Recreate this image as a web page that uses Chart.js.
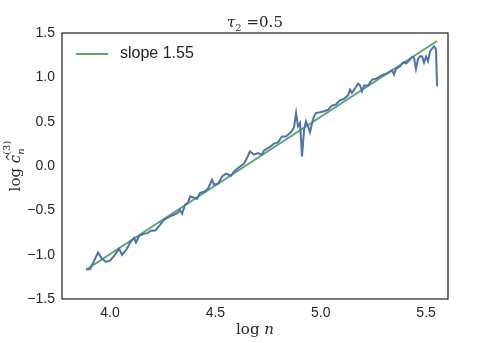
<!DOCTYPE html>
<html><head><meta charset="utf-8">
<script src="https://cdn.jsdelivr.net/npm/chart.js@4/dist/chart.umd.min.js"></script>
<style>html,body{margin:0;padding:0;background:#fff}#wrap{width:498px;height:343px}</style>
</head><body><div id="wrap"><canvas id="c" width="498" height="343"></canvas></div>
<script>
const logN = [3.886,3.905,3.943,3.962,3.981,4.000,4.019,4.043,4.057,4.081,4.095,4.114,4.123,4.138,4.161,4.180,4.195,4.209,4.218,4.237,4.256,4.285,4.304,4.323,4.332,4.342,4.356,4.370,4.380,4.399,4.413,4.427,4.446,4.465,4.484,4.494,4.513,4.532,4.551,4.574,4.589,4.598,4.617,4.636,4.655,4.664,4.683,4.702,4.721,4.731,4.759,4.778,4.797,4.816,4.835,4.854,4.864,4.873,4.883,4.892,4.902,4.911,4.921,4.930,4.940,4.949,4.959,4.968,4.978,4.997,5.016,5.035,5.053,5.072,5.091,5.110,5.129,5.139,5.148,5.168,5.177,5.187,5.196,5.206,5.225,5.244,5.263,5.281,5.300,5.319,5.338,5.348,5.357,5.376,5.386,5.395,5.405,5.424,5.433,5.443,5.452,5.462,5.471,5.481,5.490,5.500,5.509,5.519,5.528,5.538,5.547,5.552];
const logC = [-1.164,-1.164,-0.976,-1.047,-1.081,-1.067,-1.014,-0.934,-1.002,-0.931,-0.863,-0.810,-0.863,-0.788,-0.765,-0.754,-0.728,-0.731,-0.720,-0.663,-0.607,-0.569,-0.550,-0.524,-0.494,-0.539,-0.437,-0.415,-0.344,-0.358,-0.369,-0.302,-0.290,-0.256,-0.155,-0.211,-0.200,-0.118,-0.087,-0.110,-0.061,-0.042,-0.005,0.026,0.116,0.165,0.128,0.147,0.128,0.176,0.215,0.252,0.267,0.334,0.334,0.373,0.402,0.433,0.599,0.447,0.486,0.108,0.410,0.504,0.447,0.380,0.486,0.560,0.599,0.606,0.617,0.636,0.681,0.693,0.741,0.757,0.794,0.862,0.825,0.893,0.930,0.907,0.843,0.907,0.907,0.975,0.983,1.012,1.032,1.051,1.080,1.032,1.096,1.125,1.156,1.171,1.156,1.201,1.232,1.220,1.096,1.209,1.238,1.235,1.167,1.235,1.182,1.292,1.322,1.351,1.314,0.899];
const fitX = [3.886, 5.552];
const fitY = [-1.17, 1.41];
const fitLabel = 'slope 1.55';
const xTicks = [4.0, 4.5, 5.0, 5.5];
const yTicks = [-1.5, -1.0, -0.5, 0.0, 0.5, 1.0, 1.5];

const BLUE = '#4C72B0', GREEN = '#55A868';
const fmt = v => v.toFixed(1).replace('-', '\u2212');

const annot = {
  id: 'annot',
  afterDraw(chart) {
    const ctx = chart.ctx, a = chart.chartArea;
    ctx.save();
    ctx.strokeStyle = '#262626'; ctx.lineWidth = 1.25;
    ctx.strokeRect(a.left, a.top, a.right - a.left, a.bottom - a.top);
    ctx.fillStyle = '#262626';
    const cx = (a.left + a.right) / 2;
    ctx.textBaseline = 'alphabetic';
    ctx.font = 'italic 15px "DejaVu Serif"';
    let wTau = ctx.measureText('τ').width;
    ctx.font = '10px "DejaVu Serif"';
    let wSub = ctx.measureText('2').width;
    ctx.font = '15px "DejaVu Serif"';
    let wRest = ctx.measureText(' =0.5').width;
    let x0 = cx - (wTau + wSub + wRest) / 2, ty = 27;
    ctx.textAlign = 'left';
    ctx.font = 'italic 15px "DejaVu Serif"'; ctx.fillText('τ', x0, ty);
    ctx.font = '10px "DejaVu Serif"'; ctx.fillText('2', x0 + wTau, ty + 4);
    ctx.font = '15px "DejaVu Serif"'; ctx.fillText(' =0.5', x0 + wTau + wSub, ty);
    ctx.font = '15px "DejaVu Serif"';
    let w1 = ctx.measureText('log ').width;
    ctx.font = 'italic 15px "DejaVu Serif"';
    let w2 = ctx.measureText('n').width;
    let xl = cx - (w1 + w2) / 2, yl = 334;
    ctx.font = '15px "DejaVu Serif"'; ctx.fillText('log ', xl, yl);
    ctx.font = 'italic 15px "DejaVu Serif"'; ctx.fillText('n', xl + w1, yl);
    ctx.translate(20, (a.top + a.bottom) / 2);
    ctx.rotate(-Math.PI / 2);
    ctx.font = '15px "DejaVu Serif"';
    let l1 = ctx.measureText('log ').width;
    ctx.font = 'italic 15px "DejaVu Serif"';
    let l2 = ctx.measureText('c').width;
    ctx.font = '10px "DejaVu Serif"';
    let l3 = ctx.measureText('(3)').width;
    let sx = -(l1 + l2 + l3) / 2;
    ctx.font = '15px "DejaVu Serif"'; ctx.fillText('log ', sx, 0);
    ctx.font = 'italic 15px "DejaVu Serif"'; ctx.fillText('c', sx + l1, 0);
    ctx.font = '11px "DejaVu Serif"'; ctx.fillText('^', sx + l1 + 1.5, -6);
    ctx.font = 'italic 10px "DejaVu Serif"'; ctx.fillText('n', sx + l1 + l2, 4);
    ctx.font = '10px "DejaVu Serif"'; ctx.fillText('(3)', sx + l1 + l2, -10);
    ctx.restore();
    ctx.save();
    const ds = chart.data.datasets[1];
    ctx.strokeStyle = ds.borderColor; ctx.lineWidth = 2;
    ctx.beginPath(); ctx.moveTo(a.left + 14, a.top + 21); ctx.lineTo(a.left + 46, a.top + 21); ctx.stroke();
    ctx.fillStyle = '#262626';
    ctx.font = '16px "Liberation Sans", Arial, sans-serif';
    ctx.textBaseline = 'middle'; ctx.textAlign = 'left';
    ctx.fillText(ds.label, a.left + 58, a.top + 21);
    ctx.restore();
  }
};

new Chart(document.getElementById('c'), {
  type: 'line',
  data: {
    datasets: [
      { label: 'data', data: logN.map((x, i) => ({x, y: logC[i]})), borderColor: BLUE, borderWidth: 2, pointRadius: 0, tension: 0, fill: false },
      { label: fitLabel, data: fitX.map((x, i) => ({x, y: fitY[i]})), borderColor: GREEN, borderWidth: 2, pointRadius: 0, tension: 0, fill: false }
    ]
  },
  options: {
    responsive: false, animation: false,
    layout: { padding: { left: 0, right: 50, top: 33, bottom: 0 } },
    plugins: { legend: { display: false }, tooltip: { enabled: false }, title: { display: false } },
    scales: {
      x: {
        type: 'linear', min: 3.772, max: 5.604,
        afterBuildTicks: s => { s.ticks = xTicks.map(v => ({value: v})); },
        afterFit: s => { s.height = 44; },
        grid: { display: false, drawTicks: false },
        border: { display: false },
        ticks: { callback: v => fmt(v), color: '#262626', padding: 6, maxRotation: 0, font: { family: '"Liberation Sans", Arial, sans-serif', size: 14 } }
      },
      y: {
        type: 'linear', min: -1.5, max: 1.5,
        afterBuildTicks: s => { s.ticks = yTicks.map(v => ({value: v})); },
        afterFit: s => { s.width = 62; },
        grid: { display: false, drawTicks: false },
        border: { display: false },
        ticks: { callback: v => fmt(v), color: '#262626', padding: 7, font: { family: '"Liberation Sans", Arial, sans-serif', size: 14 } }
      }
    }
  },
  plugins: [annot]
});
</script>
</body></html>
